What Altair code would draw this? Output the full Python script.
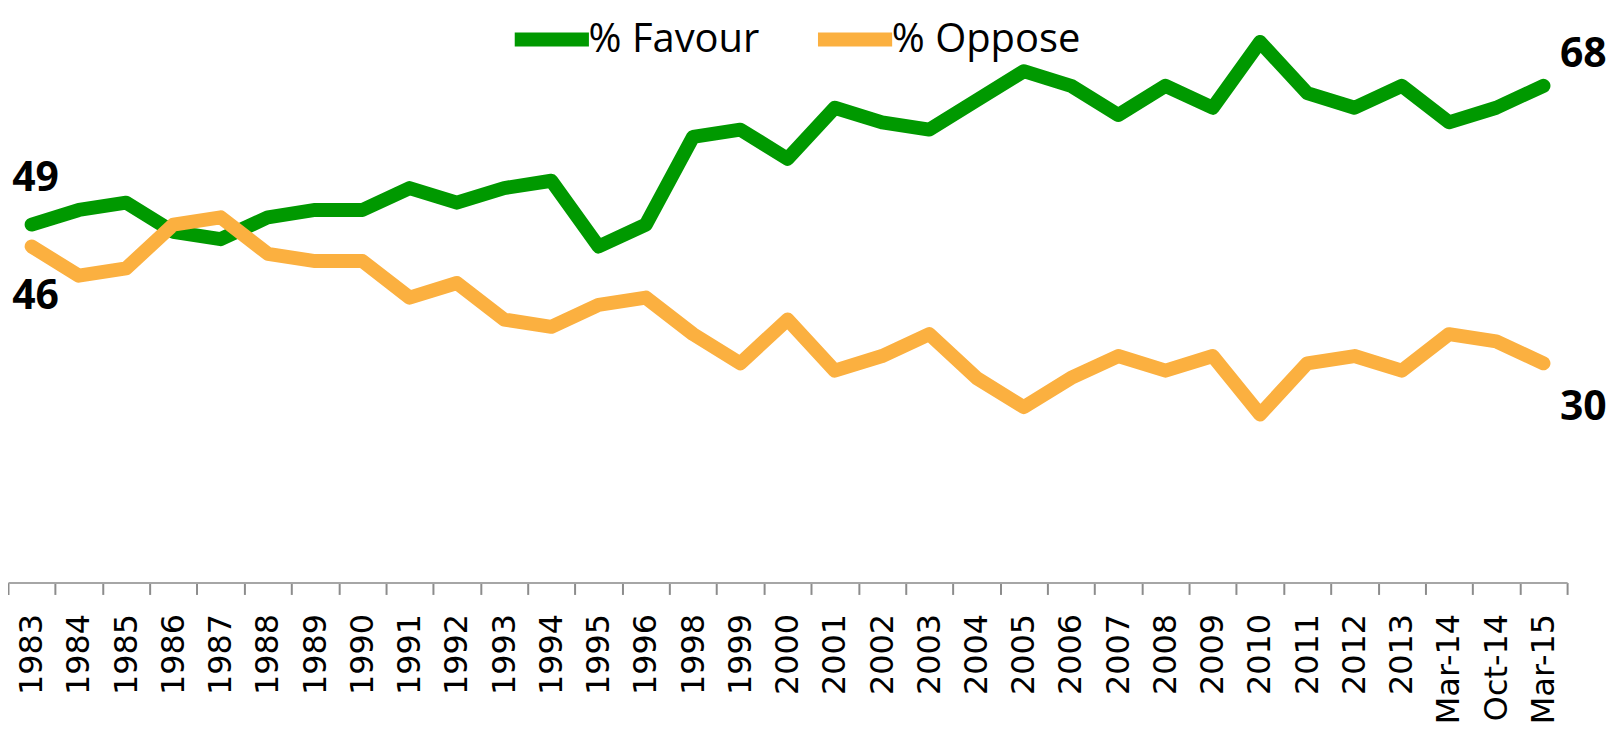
import altair as alt
import pandas as pd

categories = ["1983", "1984", "1985", "1986", "1987", "1988", "1989", "1990", "1991",
              "1992", "1993", "1994", "1995", "1996", "1998", "1999", "2000", "2001",
              "2002", "2003", "2004", "2005", "2006", "2007", "2008", "2009", "2010",
              "2011", "2012", "2013", "Mar-14", "Oct-14", "Mar-15"]
favour = [49, 51, 52, 48, 47, 50, 51, 51, 54, 52, 54, 55, 46, 49, 61, 62, 58, 65,
          63, 62, 66, 70, 68, 64, 68, 65, 74, 67, 65, 68, 63, 65, 68]
oppose = [46, 42, 43, 49, 50, 45, 44, 44, 39, 41, 36, 35, 38, 39, 34, 30, 36, 29,
          31, 34, 28, 24, 28, 31, 29, 31, 23, 30, 31, 29, 34, 33, 30]
series_names = ["% Favour", "% Oppose"]
series_colors = ["#009900", "#FBB040"]

rows = []
for i, c in enumerate(categories):
    rows.append({"cat": c, "series": series_names[0], "value": favour[i], "order": i})
    rows.append({"cat": c, "series": series_names[1], "value": oppose[i], "order": i})
df = pd.DataFrame(rows)

x_axis = alt.Axis(title=None, labelAngle=-90, tickBand="extent",
                  labelFont="DejaVu Sans", labelFontSize=32, labelColor="#000000",
                  labelPadding=19, tickSize=12, tickColor="#8c8c8c",
                  domainColor="#a6a6a6", domainWidth=2, tickWidth=2, grid=False)
x_scale = alt.Scale(type="band", paddingInner=0, paddingOuter=0)
x_enc = alt.X("cat:N", sort=categories, scale=x_scale, axis=x_axis)
y_scale = alt.Scale(domain=[0, 75.8], nice=False, zero=True)
y_enc = alt.Y("value:Q", scale=y_scale, axis=None)

base = alt.Chart(df)

lines = base.mark_line(strokeWidth=14, strokeCap="round", strokeJoin="round").encode(
    x=x_enc,
    y=y_enc,
    color=alt.Color("series:N",
                    scale=alt.Scale(domain=series_names, range=series_colors),
                    legend=alt.Legend(title=None, orient="none", legendX=501, legendY=-30,
                                      direction="horizontal", symbolType="M-1,0L1.22,0",
                                      symbolSize=4489, symbolStrokeWidth=14,
                                      labelFont="Open Sans", labelFontSize=40,
                                      labelColor="#000000", labelLimit=500,
                                      labelOffset=0, columnPadding=30, gridAlign="each")),
    order="order:Q",
)

def label_layer(cat, series, dx, dy):
    return base.transform_filter(
        (alt.datum.cat == cat) & (alt.datum.series == series)
    ).mark_text(font="Open Sans", fontWeight="bold", fontSize=41, color="#000000",
                dx=dx, dy=dy, align="center", baseline="middle").encode(
        x=x_enc,
        y=y_enc,
        text=alt.Text("value:Q"),
    )

labels = (label_layer(categories[0], series_names[0], 4, -46)
          + label_layer(categories[0], series_names[1], 4, 51)
          + label_layer(categories[-1], series_names[0], 40, -31)
          + label_layer(categories[-1], series_names[1], 40, 45))

chart = alt.layer(lines, labels).properties(
    width=1563, height=555,
    autosize=alt.AutoSizeParams(type="none"),
    padding={"left": 0, "top": 20, "right": 40, "bottom": 140},
).configure_view(stroke=None)

chart.save("out.html", embed_options={"renderer": "svg", "actions": False})
